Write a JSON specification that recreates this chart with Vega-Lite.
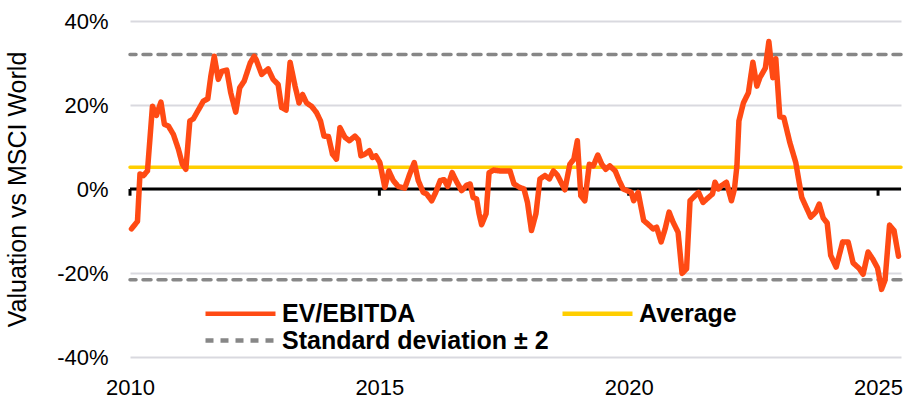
{
  "$schema": "https://vega.github.io/schema/vega-lite/v6.json",
  "width": 771,
  "height": 336,
  "autosize": "none",
  "padding": {"left": 130, "top": 21, "right": 10, "bottom": 43},
  "background": "white",
  "config": {
    "view": {"stroke": null},
    "font": "Liberation Sans",
    "legend": {
      "orient": "none",
      "direction": "horizontal",
      "legendX": 98,
      "legendY": 280,
      "columns": 2,
      "columnPadding": 4,
      "rowPadding": 1,
      "labelFontSize": 25,
      "labelFont": "Liberation Sans",
      "labelFontWeight": "bold",
      "labelColor": "#000000",
      "labelOffset": 29,
      "labelLimit": 500,
      "symbolType": "M-3.5,0H3.5",
      "symbolSize": 400,
      "symbolStrokeWidth": 4.5,
      "title": null
    }
  },
  "datasets": {
    "series": [
      {"year": 2010.03, "value": -9.5, "series": "EV/EBITDA"},
      {"year": 2010.15, "value": -7.7, "series": "EV/EBITDA"},
      {"year": 2010.20, "value": 3.6, "series": "EV/EBITDA"},
      {"year": 2010.27, "value": 3.2, "series": "EV/EBITDA"},
      {"year": 2010.35, "value": 4.3, "series": "EV/EBITDA"},
      {"year": 2010.45, "value": 19.7, "series": "EV/EBITDA"},
      {"year": 2010.53, "value": 17.5, "series": "EV/EBITDA"},
      {"year": 2010.62, "value": 20.7, "series": "EV/EBITDA"},
      {"year": 2010.69, "value": 15.4, "series": "EV/EBITDA"},
      {"year": 2010.77, "value": 15.0, "series": "EV/EBITDA"},
      {"year": 2010.87, "value": 13.0, "series": "EV/EBITDA"},
      {"year": 2010.97, "value": 9.5, "series": "EV/EBITDA"},
      {"year": 2011.05, "value": 5.9, "series": "EV/EBITDA"},
      {"year": 2011.12, "value": 4.7, "series": "EV/EBITDA"},
      {"year": 2011.20, "value": 16.2, "series": "EV/EBITDA"},
      {"year": 2011.27, "value": 16.7, "series": "EV/EBITDA"},
      {"year": 2011.36, "value": 18.6, "series": "EV/EBITDA"},
      {"year": 2011.47, "value": 20.9, "series": "EV/EBITDA"},
      {"year": 2011.56, "value": 21.5, "series": "EV/EBITDA"},
      {"year": 2011.62, "value": 26.8, "series": "EV/EBITDA"},
      {"year": 2011.69, "value": 31.6, "series": "EV/EBITDA"},
      {"year": 2011.77, "value": 26.1, "series": "EV/EBITDA"},
      {"year": 2011.84, "value": 28.0, "series": "EV/EBITDA"},
      {"year": 2011.94, "value": 28.3, "series": "EV/EBITDA"},
      {"year": 2012.02, "value": 22.9, "series": "EV/EBITDA"},
      {"year": 2012.12, "value": 18.3, "series": "EV/EBITDA"},
      {"year": 2012.20, "value": 24.1, "series": "EV/EBITDA"},
      {"year": 2012.29, "value": 25.7, "series": "EV/EBITDA"},
      {"year": 2012.41, "value": 30.0, "series": "EV/EBITDA"},
      {"year": 2012.49, "value": 31.6, "series": "EV/EBITDA"},
      {"year": 2012.53, "value": 30.8, "series": "EV/EBITDA"},
      {"year": 2012.64, "value": 27.3, "series": "EV/EBITDA"},
      {"year": 2012.77, "value": 28.6, "series": "EV/EBITDA"},
      {"year": 2012.87, "value": 26.1, "series": "EV/EBITDA"},
      {"year": 2012.97, "value": 24.9, "series": "EV/EBITDA"},
      {"year": 2013.04, "value": 19.4, "series": "EV/EBITDA"},
      {"year": 2013.13, "value": 18.8, "series": "EV/EBITDA"},
      {"year": 2013.21, "value": 30.2, "series": "EV/EBITDA"},
      {"year": 2013.31, "value": 24.5, "series": "EV/EBITDA"},
      {"year": 2013.39, "value": 20.5, "series": "EV/EBITDA"},
      {"year": 2013.46, "value": 22.5, "series": "EV/EBITDA"},
      {"year": 2013.54, "value": 20.5, "series": "EV/EBITDA"},
      {"year": 2013.64, "value": 19.7, "series": "EV/EBITDA"},
      {"year": 2013.74, "value": 18.2, "series": "EV/EBITDA"},
      {"year": 2013.82, "value": 16.2, "series": "EV/EBITDA"},
      {"year": 2013.89, "value": 12.6, "series": "EV/EBITDA"},
      {"year": 2013.98, "value": 12.5, "series": "EV/EBITDA"},
      {"year": 2014.06, "value": 8.3, "series": "EV/EBITDA"},
      {"year": 2014.14, "value": 7.1, "series": "EV/EBITDA"},
      {"year": 2014.21, "value": 14.6, "series": "EV/EBITDA"},
      {"year": 2014.31, "value": 12.3, "series": "EV/EBITDA"},
      {"year": 2014.40, "value": 11.5, "series": "EV/EBITDA"},
      {"year": 2014.51, "value": 12.6, "series": "EV/EBITDA"},
      {"year": 2014.58, "value": 11.7, "series": "EV/EBITDA"},
      {"year": 2014.63, "value": 7.9, "series": "EV/EBITDA"},
      {"year": 2014.71, "value": 8.3, "series": "EV/EBITDA"},
      {"year": 2014.80, "value": 9.1, "series": "EV/EBITDA"},
      {"year": 2014.86, "value": 7.5, "series": "EV/EBITDA"},
      {"year": 2014.93, "value": 7.9, "series": "EV/EBITDA"},
      {"year": 2015.01, "value": 6.3, "series": "EV/EBITDA"},
      {"year": 2015.11, "value": 0.4, "series": "EV/EBITDA"},
      {"year": 2015.19, "value": 4.3, "series": "EV/EBITDA"},
      {"year": 2015.28, "value": 2.0, "series": "EV/EBITDA"},
      {"year": 2015.38, "value": 0.6, "series": "EV/EBITDA"},
      {"year": 2015.51, "value": 0.2, "series": "EV/EBITDA"},
      {"year": 2015.61, "value": 3.6, "series": "EV/EBITDA"},
      {"year": 2015.70, "value": 6.3, "series": "EV/EBITDA"},
      {"year": 2015.78, "value": 2.0, "series": "EV/EBITDA"},
      {"year": 2015.88, "value": -0.8, "series": "EV/EBITDA"},
      {"year": 2015.95, "value": -1.2, "series": "EV/EBITDA"},
      {"year": 2016.05, "value": -2.8, "series": "EV/EBITDA"},
      {"year": 2016.13, "value": -0.8, "series": "EV/EBITDA"},
      {"year": 2016.22, "value": 2.0, "series": "EV/EBITDA"},
      {"year": 2016.30, "value": 2.2, "series": "EV/EBITDA"},
      {"year": 2016.37, "value": 0.6, "series": "EV/EBITDA"},
      {"year": 2016.46, "value": 3.9, "series": "EV/EBITDA"},
      {"year": 2016.55, "value": 1.7, "series": "EV/EBITDA"},
      {"year": 2016.65, "value": -0.4, "series": "EV/EBITDA"},
      {"year": 2016.75, "value": 0.9, "series": "EV/EBITDA"},
      {"year": 2016.82, "value": 1.2, "series": "EV/EBITDA"},
      {"year": 2016.88, "value": -2.0, "series": "EV/EBITDA"},
      {"year": 2016.95, "value": -2.4, "series": "EV/EBITDA"},
      {"year": 2017.00, "value": -5.9, "series": "EV/EBITDA"},
      {"year": 2017.05, "value": -8.5, "series": "EV/EBITDA"},
      {"year": 2017.14, "value": -5.9, "series": "EV/EBITDA"},
      {"year": 2017.20, "value": 3.9, "series": "EV/EBITDA"},
      {"year": 2017.29, "value": 4.5, "series": "EV/EBITDA"},
      {"year": 2017.42, "value": 4.3, "series": "EV/EBITDA"},
      {"year": 2017.52, "value": 4.3, "series": "EV/EBITDA"},
      {"year": 2017.62, "value": 4.3, "series": "EV/EBITDA"},
      {"year": 2017.70, "value": 1.2, "series": "EV/EBITDA"},
      {"year": 2017.81, "value": 0.4, "series": "EV/EBITDA"},
      {"year": 2017.90, "value": 0.0, "series": "EV/EBITDA"},
      {"year": 2017.97, "value": -3.2, "series": "EV/EBITDA"},
      {"year": 2018.05, "value": -9.9, "series": "EV/EBITDA"},
      {"year": 2018.14, "value": -5.9, "series": "EV/EBITDA"},
      {"year": 2018.22, "value": 2.4, "series": "EV/EBITDA"},
      {"year": 2018.32, "value": 3.2, "series": "EV/EBITDA"},
      {"year": 2018.41, "value": 2.4, "series": "EV/EBITDA"},
      {"year": 2018.49, "value": 4.3, "series": "EV/EBITDA"},
      {"year": 2018.57, "value": 3.3, "series": "EV/EBITDA"},
      {"year": 2018.66, "value": 1.2, "series": "EV/EBITDA"},
      {"year": 2018.72, "value": -0.2, "series": "EV/EBITDA"},
      {"year": 2018.82, "value": 5.9, "series": "EV/EBITDA"},
      {"year": 2018.90, "value": 7.1, "series": "EV/EBITDA"},
      {"year": 2018.97, "value": 11.5, "series": "EV/EBITDA"},
      {"year": 2019.04, "value": -1.6, "series": "EV/EBITDA"},
      {"year": 2019.12, "value": -2.8, "series": "EV/EBITDA"},
      {"year": 2019.21, "value": 5.9, "series": "EV/EBITDA"},
      {"year": 2019.29, "value": 5.5, "series": "EV/EBITDA"},
      {"year": 2019.38, "value": 8.1, "series": "EV/EBITDA"},
      {"year": 2019.46, "value": 5.9, "series": "EV/EBITDA"},
      {"year": 2019.54, "value": 4.7, "series": "EV/EBITDA"},
      {"year": 2019.62, "value": 5.5, "series": "EV/EBITDA"},
      {"year": 2019.73, "value": 4.3, "series": "EV/EBITDA"},
      {"year": 2019.81, "value": 2.0, "series": "EV/EBITDA"},
      {"year": 2019.89, "value": 0.0, "series": "EV/EBITDA"},
      {"year": 2019.97, "value": -0.4, "series": "EV/EBITDA"},
      {"year": 2020.05, "value": -0.8, "series": "EV/EBITDA"},
      {"year": 2020.10, "value": -2.8, "series": "EV/EBITDA"},
      {"year": 2020.19, "value": -0.8, "series": "EV/EBITDA"},
      {"year": 2020.30, "value": -7.5, "series": "EV/EBITDA"},
      {"year": 2020.38, "value": -8.3, "series": "EV/EBITDA"},
      {"year": 2020.49, "value": -9.5, "series": "EV/EBITDA"},
      {"year": 2020.56, "value": -9.1, "series": "EV/EBITDA"},
      {"year": 2020.65, "value": -12.6, "series": "EV/EBITDA"},
      {"year": 2020.73, "value": -9.5, "series": "EV/EBITDA"},
      {"year": 2020.81, "value": -5.5, "series": "EV/EBITDA"},
      {"year": 2020.89, "value": -7.9, "series": "EV/EBITDA"},
      {"year": 2020.99, "value": -10.3, "series": "EV/EBITDA"},
      {"year": 2021.07, "value": -20.1, "series": "EV/EBITDA"},
      {"year": 2021.16, "value": -19.0, "series": "EV/EBITDA"},
      {"year": 2021.23, "value": -2.8, "series": "EV/EBITDA"},
      {"year": 2021.33, "value": -1.6, "series": "EV/EBITDA"},
      {"year": 2021.40, "value": -0.8, "series": "EV/EBITDA"},
      {"year": 2021.49, "value": -3.2, "series": "EV/EBITDA"},
      {"year": 2021.60, "value": -2.0, "series": "EV/EBITDA"},
      {"year": 2021.68, "value": -1.2, "series": "EV/EBITDA"},
      {"year": 2021.73, "value": 1.6, "series": "EV/EBITDA"},
      {"year": 2021.80, "value": 0.0, "series": "EV/EBITDA"},
      {"year": 2021.86, "value": 0.8, "series": "EV/EBITDA"},
      {"year": 2021.96, "value": 1.6, "series": "EV/EBITDA"},
      {"year": 2022.06, "value": -2.8, "series": "EV/EBITDA"},
      {"year": 2022.12, "value": 0.0, "series": "EV/EBITDA"},
      {"year": 2022.17, "value": 5.5, "series": "EV/EBITDA"},
      {"year": 2022.21, "value": 16.2, "series": "EV/EBITDA"},
      {"year": 2022.30, "value": 20.5, "series": "EV/EBITDA"},
      {"year": 2022.40, "value": 22.9, "series": "EV/EBITDA"},
      {"year": 2022.49, "value": 30.2, "series": "EV/EBITDA"},
      {"year": 2022.57, "value": 24.5, "series": "EV/EBITDA"},
      {"year": 2022.63, "value": 26.5, "series": "EV/EBITDA"},
      {"year": 2022.74, "value": 28.8, "series": "EV/EBITDA"},
      {"year": 2022.81, "value": 35.1, "series": "EV/EBITDA"},
      {"year": 2022.89, "value": 26.5, "series": "EV/EBITDA"},
      {"year": 2022.95, "value": 31.0, "series": "EV/EBITDA"},
      {"year": 2023.03, "value": 17.2, "series": "EV/EBITDA"},
      {"year": 2023.11, "value": 17.0, "series": "EV/EBITDA"},
      {"year": 2023.23, "value": 11.1, "series": "EV/EBITDA"},
      {"year": 2023.35, "value": 6.3, "series": "EV/EBITDA"},
      {"year": 2023.47, "value": -2.0, "series": "EV/EBITDA"},
      {"year": 2023.65, "value": -6.7, "series": "EV/EBITDA"},
      {"year": 2023.75, "value": -5.5, "series": "EV/EBITDA"},
      {"year": 2023.82, "value": -3.6, "series": "EV/EBITDA"},
      {"year": 2023.90, "value": -6.9, "series": "EV/EBITDA"},
      {"year": 2023.98, "value": -8.1, "series": "EV/EBITDA"},
      {"year": 2024.05, "value": -15.8, "series": "EV/EBITDA"},
      {"year": 2024.16, "value": -18.6, "series": "EV/EBITDA"},
      {"year": 2024.29, "value": -12.6, "series": "EV/EBITDA"},
      {"year": 2024.40, "value": -12.6, "series": "EV/EBITDA"},
      {"year": 2024.50, "value": -17.6, "series": "EV/EBITDA"},
      {"year": 2024.62, "value": -18.9, "series": "EV/EBITDA"},
      {"year": 2024.70, "value": -20.3, "series": "EV/EBITDA"},
      {"year": 2024.80, "value": -15.0, "series": "EV/EBITDA"},
      {"year": 2024.90, "value": -16.8, "series": "EV/EBITDA"},
      {"year": 2024.99, "value": -18.8, "series": "EV/EBITDA"},
      {"year": 2025.07, "value": -23.9, "series": "EV/EBITDA"},
      {"year": 2025.14, "value": -21.7, "series": "EV/EBITDA"},
      {"year": 2025.23, "value": -8.6, "series": "EV/EBITDA"},
      {"year": 2025.32, "value": -9.9, "series": "EV/EBITDA"},
      {"year": 2025.41, "value": -16.0, "series": "EV/EBITDA"}
    ],
    "refs": [
      {"series": "Average", "value": 5.2},
      {"series": "Standard deviation ± 2", "value": 32.0},
      {"series": "Standard deviation ± 2", "value": -21.6}
    ],
    "zero": [{"value": 0}],
    "ticks": [{"year": 2010}, {"year": 2015}, {"year": 2020}, {"year": 2025}]
  },
  "layer": [
    {
      "data": {"name": "zero"},
      "mark": {"type": "rule", "color": "#000000", "strokeWidth": 3},
      "encoding": {
        "y": {
          "field": "value",
          "type": "quantitative",
          "scale": {"domain": [-40, 40], "nice": false},
          "axis": {
            "values": [-40, -20, 0, 20, 40],
            "labelExpr": "datum.value + '%'",
            "title": "Valuation vs MSCI World",
            "domain": false,
            "ticks": false,
            "tickSize": 0,
            "labelPadding": 22,
            "labelFontSize": 22,
            "labelColor": "#000000",
            "labelFont": "Liberation Sans",
            "gridColor": "#D9D9DF",
            "gridWidth": 2,
            "titleFont": "Liberation Sans",
            "titleFontSize": 25,
            "titleFontWeight": "normal",
            "titleColor": "#000000",
            "titlePadding": 26
          }
        }
      }
    },
    {
      "data": {"name": "ticks"},
      "mark": {"type": "rule", "color": "#000000", "strokeWidth": 3},
      "encoding": {
        "x": {
          "field": "year",
          "type": "quantitative",
          "scale": {"domain": [2010, 2025.46], "nice": false, "zero": false},
          "axis": {
            "values": [2010, 2015, 2020, 2025],
            "format": "d",
            "grid": false,
            "domain": false,
            "ticks": false,
            "labelPadding": 20,
            "labelFontSize": 22,
            "labelFont": "Liberation Sans",
            "labelColor": "#000000",
            "labelFlush": false,
            "title": null
          }
        },
        "y": {"datum": 0, "type": "quantitative"},
        "y2": {"datum": -1.6}
      }
    },
    {
      "data": {"name": "refs"},
      "mark": {"type": "rule", "strokeWidth": 3.5, "strokeCap": "round"},
      "encoding": {
        "y": {"field": "value", "type": "quantitative"},
        "color": {
          "field": "series",
          "type": "nominal",
          "scale": {
            "domain": ["EV/EBITDA", "Average", "Standard deviation ± 2"],
            "range": ["#FF4A14", "#FFCE00", "#878787"]
          },
          "legend": {"values": ["EV/EBITDA", "Average", "Standard deviation ± 2"]}
        },
        "strokeDash": {
          "field": "series",
          "type": "nominal",
          "scale": {
            "domain": ["EV/EBITDA", "Average", "Standard deviation ± 2"],
            "range": [[1, 0], [1, 0], [8, 7]]
          },
          "legend": {"values": ["EV/EBITDA", "Average", "Standard deviation ± 2"]}
        }
      }
    },
    {
      "data": {"name": "series"},
      "mark": {"type": "line", "strokeWidth": 5.5, "strokeJoin": "round", "strokeCap": "round"},
      "encoding": {
        "x": {"field": "year", "type": "quantitative"},
        "y": {"field": "value", "type": "quantitative"},
        "color": {"field": "series", "type": "nominal"},
        "strokeDash": {"field": "series", "type": "nominal"}
      }
    }
  ]
}
